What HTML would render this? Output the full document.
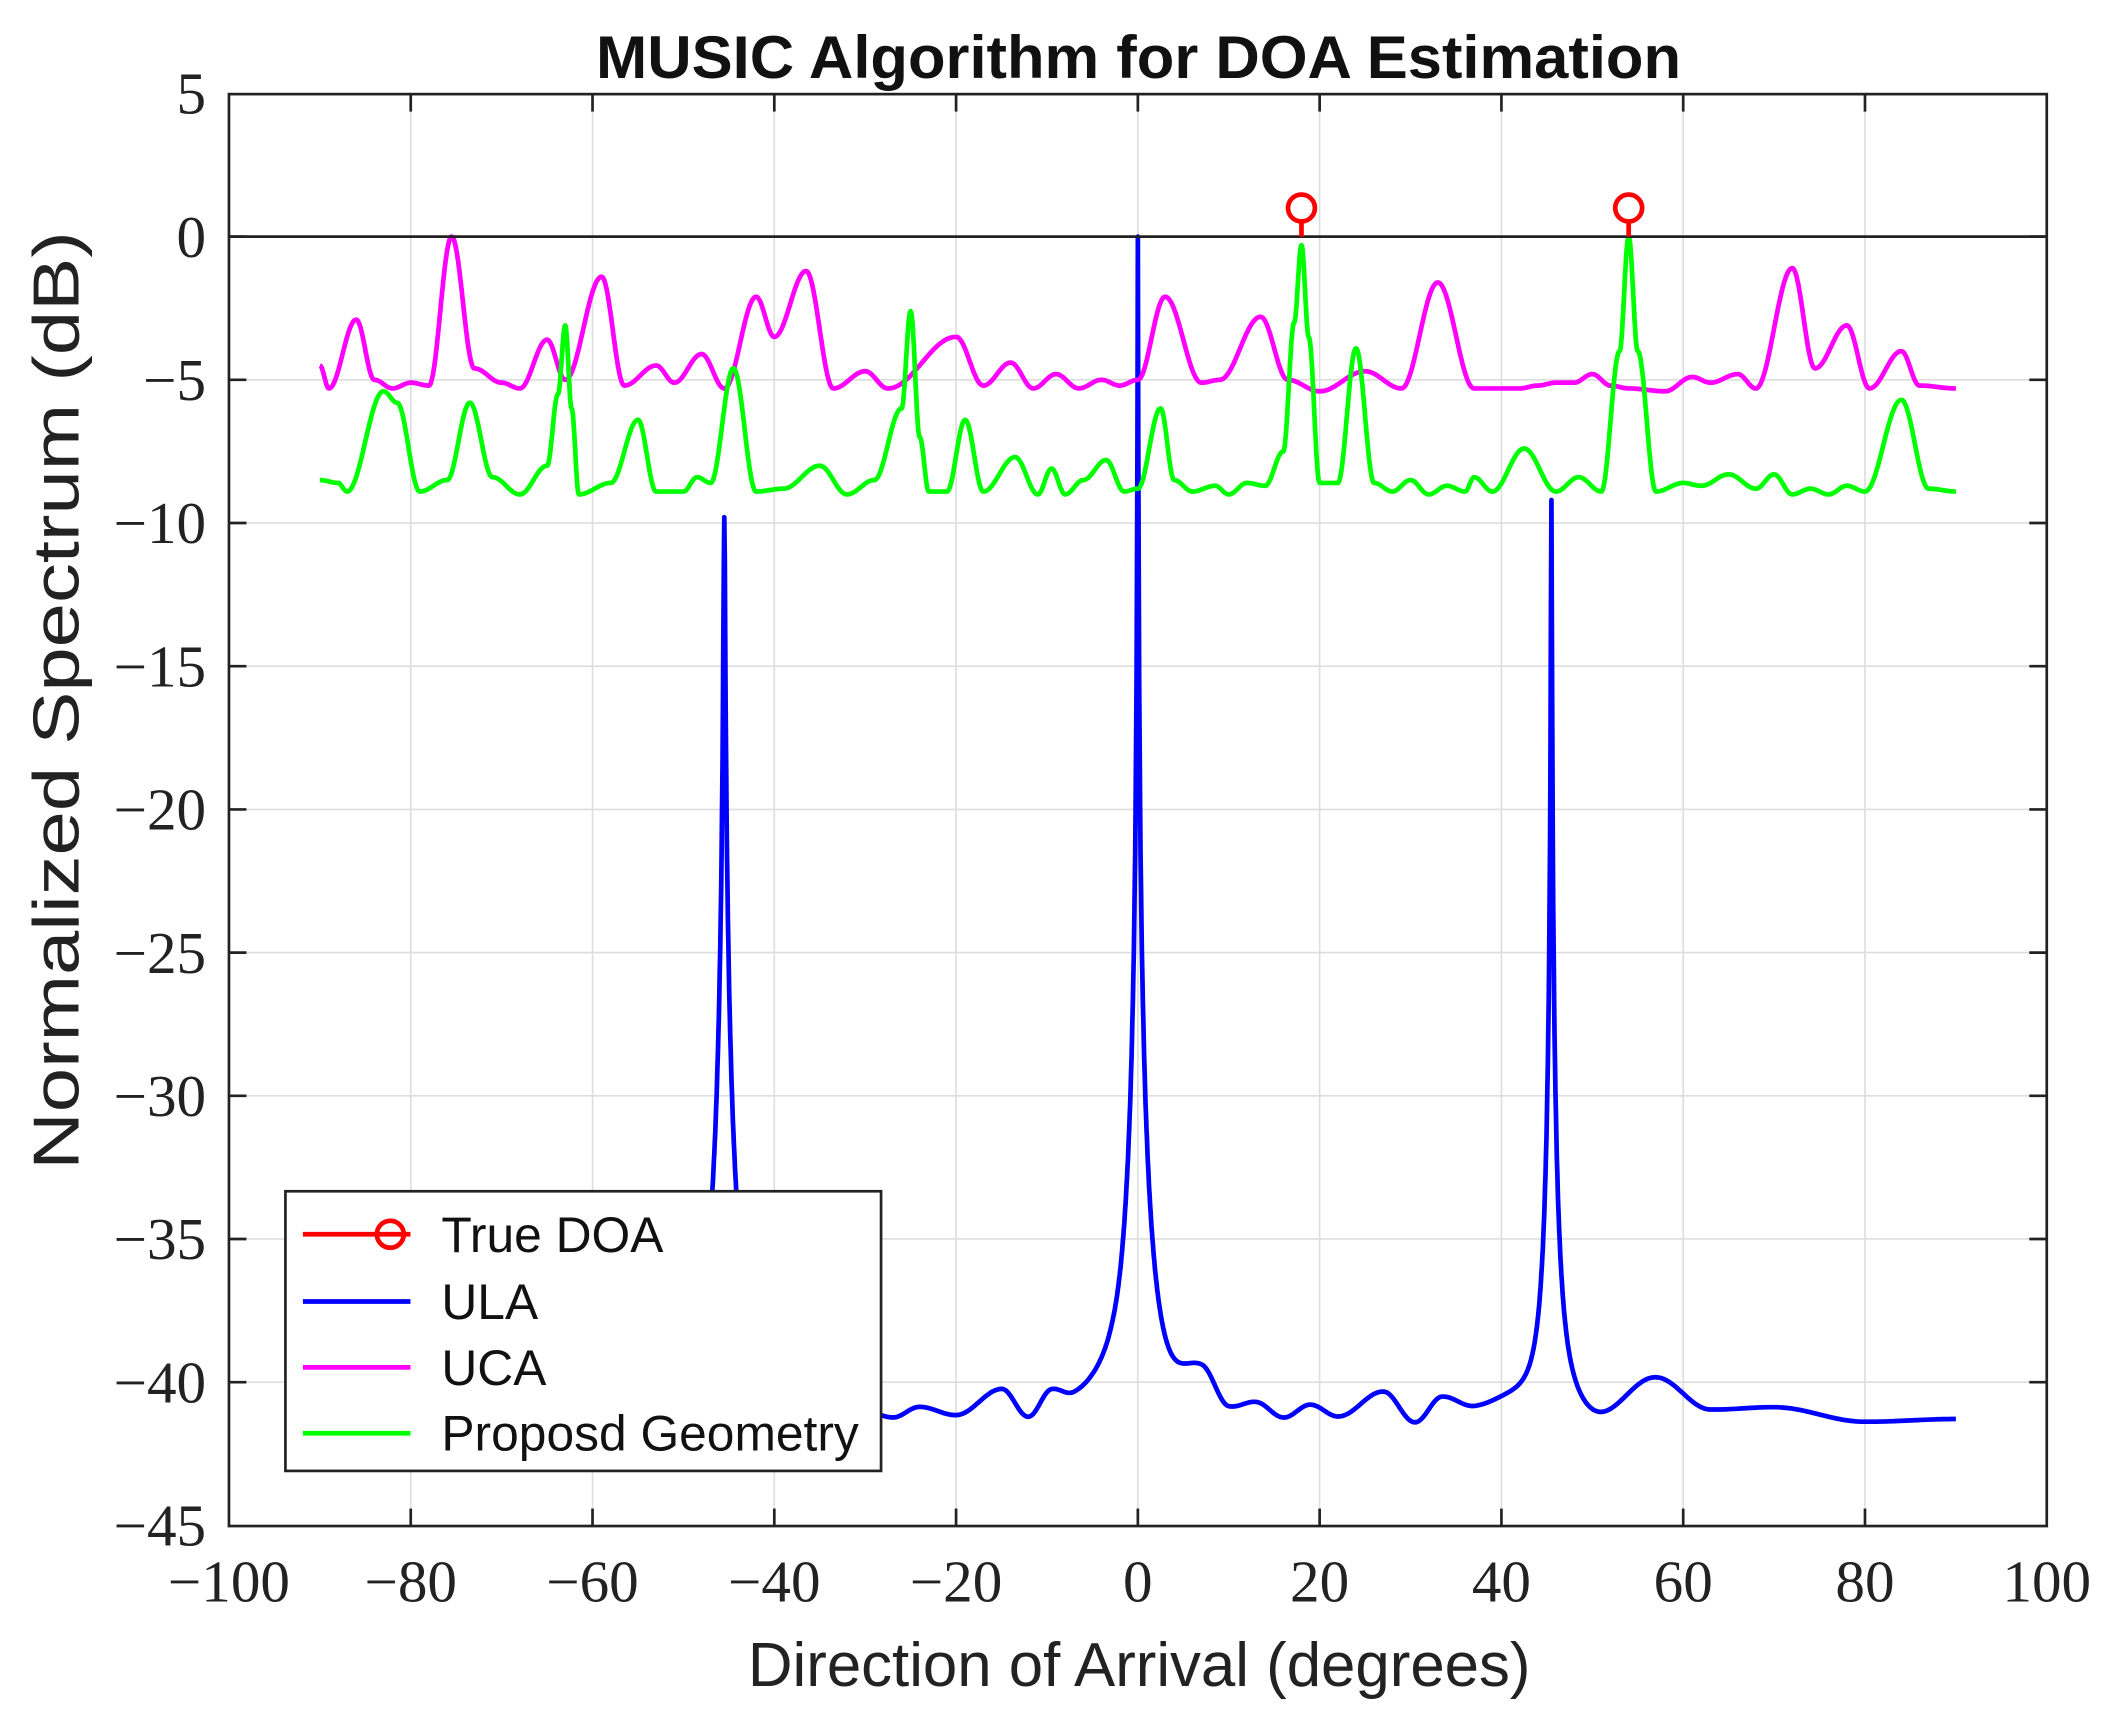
<!DOCTYPE html>
<html><head><meta charset="utf-8"><style>
html,body{margin:0;padding:0;background:#fff;}
svg{display:block;}
.tk{font-family:"Liberation Serif",serif;font-size:44px;fill:#222;}
</style></head><body>
<svg id="s" width="2109" height="1721" viewBox="0 0 1568 1280" xmlns="http://www.w3.org/2000/svg">
<rect width="1568" height="1280" fill="#fff"/>
<g id="grid"></g>
<g id="curves" fill="none" stroke-width="3.5" stroke-linejoin="round"></g>
<line x1="170" y1="176" x2="1522" y2="176" stroke="#222" stroke-width="2"/>
<g id="doa"></g>
<rect x="170" y="70" width="1352" height="1065" fill="none" stroke="#222" stroke-width="2"/>
<g id="ticks"></g>
<text x="443" y="58" textLength="807" lengthAdjust="spacingAndGlyphs" font-family="Liberation Sans, sans-serif" font-weight="bold" font-size="45" fill="#111">MUSIC Algorithm for DOA Estimation</text>
<text x="556" y="1254" textLength="582" lengthAdjust="spacingAndGlyphs" font-family="Liberation Sans, sans-serif" font-size="46" fill="#222">Direction of Arrival (degrees)</text>
<text transform="translate(58,870) rotate(-90)" textLength="698" lengthAdjust="spacingAndGlyphs" font-family="Liberation Sans, sans-serif" font-size="48" fill="#222">Normalized Spectrum (dB)</text>
<g>
<rect x="212" y="886" width="443" height="208" fill="#fff" stroke="#222" stroke-width="2"/>
<line x1="225" y1="918" x2="305" y2="918" stroke="#f00" stroke-width="3.5"/>
<circle cx="290" cy="918" r="10" fill="none" stroke="#f00" stroke-width="3.5"/>
<line x1="225" y1="968" x2="305" y2="968" stroke="#00f" stroke-width="3.5"/>
<line x1="225" y1="1017" x2="305" y2="1017" stroke="#f0f" stroke-width="3.5"/>
<line x1="225" y1="1066" x2="305" y2="1066" stroke="#0f0" stroke-width="3.5"/>
<g font-family="Liberation Sans, sans-serif" font-size="37" fill="#111">
<text x="328" y="931">True DOA</text>
<text x="328" y="981">ULA</text>
<text x="328" y="1030">UCA</text>
<text x="328" y="1079">Proposd Geometry</text>
</g>
</g>
</svg>
<script>
var NS="http://www.w3.org/2000/svg";
function X(d){return 846+6.76*d;}
function Y(v){return 176-21.3*v;}
function el(p,t,a,txt){var e=document.createElementNS(NS,t);for(var k in a)e.setAttribute(k,a[k]);if(txt!==undefined)e.textContent=txt;document.getElementById(p).appendChild(e);return e;}
for(var d=-100;d<=100;d+=20){
  var x=X(d);
  if(d>-100&&d<100){el("grid","line",{x1:x,y1:70,x2:x,y2:1135,stroke:"#ddd","stroke-width":1.2});
  el("ticks","line",{x1:x,y1:1135,x2:x,y2:1122,stroke:"#222","stroke-width":2});
  el("ticks","line",{x1:x,y1:70,x2:x,y2:83,stroke:"#222","stroke-width":2});}
  el("ticks","text",{x:x,y:1191,"text-anchor":"middle","class":"tk"},(d<0?"\u2212":"")+Math.abs(d));
}
for(var v=5;v>=-45;v-=5){
  var y=Y(v);
  if(v<5&&v>-45){el("grid","line",{x1:170,y1:y,x2:1522,y2:y,stroke:"#ddd","stroke-width":1.2});
  el("ticks","line",{x1:170,y1:y,x2:183,y2:y,stroke:"#222","stroke-width":2});
  el("ticks","line",{x1:1522,y1:y,x2:1509,y2:y,stroke:"#222","stroke-width":2});}
  el("ticks","text",{x:153,y:y+15,"text-anchor":"end","class":"tk"},(v<0?"\u2212":"")+Math.abs(v));
}
function interp(pts,x){
  for(var i=0;i<pts.length-1;i++){var a=pts[i],b=pts[i+1];
    if(x>=a[0]&&x<=b[0]){var t=(x-a[0])/(b[0]-a[0]);t=(1-Math.cos(Math.PI*t))/2;return a[1]+(b[1]-a[1])*t;}}
  return pts[pts.length-1][1];
}
function path(f,color){
  var s="";for(var d=-90;d<=90.0001;d+=0.05){s+=(s?"L":"M")+X(d).toFixed(1)+" "+Y(f(d)).toFixed(1);}
  el("curves","path",{d:s,stroke:color});
}
var mag=[[-90,-4.5],[-89,-5.3],[-86,-2.9],[-84,-5.0],[-82,-5.3],[-80,-5.1],[-78,-5.2],[-75.5,0],[-73,-4.6],[-70,-5.1],[-68,-5.3],[-65,-3.6],[-63,-5.0],[-59,-1.4],[-56.5,-5.2],[-53,-4.5],[-51,-5.1],[-48,-4.1],[-45.5,-5.3],[-42,-2.1],[-40,-3.5],[-36.5,-1.2],[-33.5,-5.3],[-30,-4.7],[-27.5,-5.3],[-20,-3.5],[-17,-5.2],[-14,-4.4],[-11.5,-5.3],[-9,-4.8],[-6.5,-5.3],[-4,-5.0],[-2,-5.2],[0,-5],[3,-2.1],[7,-5.1],[9,-5.0],[13.5,-2.8],[16.5,-5.0],[20,-5.4],[25,-4.7],[29,-5.3],[33,-1.6],[37,-5.3],[42,-5.3],[44,-5.2],[46,-5.1],[48,-5.1],[50,-4.8],[52,-5.2],[54,-5.3],[58,-5.4],[61,-4.9],[63,-5.1],[66,-4.8],[68,-5.3],[72,-1.1],[74.5,-4.6],[78,-3.1],[80.5,-5.3],[84,-4.0],[86,-5.2],[90,-5.3]];
var grn=[[-90,-8.5],[-88,-8.6],[-87,-8.9],[-83,-5.4],[-81.5,-5.8],[-79,-8.9],[-76,-8.5],[-73.5,-5.8],[-71,-8.4],[-68,-9.0],[-65,-8.0],[-63.8,-5.5],[-63,-3.1],[-62.3,-6],[-61.5,-9.0],[-58,-8.6],[-55,-6.4],[-53,-8.9],[-50,-8.9],[-48.5,-8.4],[-47,-8.6],[-44.5,-4.6],[-42,-8.9],[-39,-8.8],[-35,-8.0],[-32,-9.0],[-29,-8.5],[-26,-6],[-25,-2.6],[-24,-7],[-23,-8.9],[-21,-8.9],[-19,-6.4],[-17,-8.9],[-13.5,-7.7],[-11,-9.0],[-9.5,-8.1],[-8,-9.0],[-6,-8.5],[-3.5,-7.8],[-1.5,-8.9],[0,-8.8],[2.5,-6.0],[4,-8.5],[6,-8.9],[8.5,-8.7],[10,-9.0],[12,-8.6],[14,-8.7],[16,-7.5],[17.2,-3],[18,-0.3],[18.8,-3.5],[20,-8.6],[22,-8.6],[24,-3.9],[26,-8.6],[28,-8.9],[30,-8.5],[32,-9.0],[34,-8.7],[36,-8.9],[37,-8.4],[39,-8.9],[42.5,-7.4],[46,-8.9],[48.5,-8.4],[51,-8.9],[53,-4],[54,0],[55,-4],[57,-8.9],[60,-8.6],[62,-8.7],[65,-8.3],[68,-8.8],[70,-8.3],[72,-9.0],[74,-8.8],[76,-9.0],[78,-8.7],[80,-8.9],[84,-5.7],[87,-8.8],[90,-8.9]];
var blueB=[[-90,-41],[-60,-41.2],[-50,-41],[-40,-41],[-30,-41.2],[-27,-41.4],[-24,-41],[-20,-41.3],[-15,-40.4],[-12,-41.5],[-9.5,-40.6],[-7,-41],[-3,-40.8],[-1.5,-41],[0,-41],[2,-41.4],[7,-39.9],[10,-41.2],[13,-40.9],[16,-41.4],[19,-40.9],[22,-41.3],[27,-40.4],[30.5,-41.5],[33.5,-40.6],[37,-41],[41,-40.8],[45.5,-41],[50,-41.5],[57,-39.9],[63,-41],[70,-40.9],[80,-41.4],[90,-41.3]];
function pk(d,c,top,w){return top-10*Math.log10(1+Math.pow((d-c)/w,2));}
function blue(d){
  var b=interp(blueB,d);
  var p=Math.pow(10,b/10)+Math.pow(10,pk(d,-45.5,-9.8,0.08)/10)+Math.pow(10,pk(d,0,0,0.025)/10)+Math.pow(10,pk(d,45.5,-9.2,0.04)/10);
  return 10*Math.log10(p);
}
path(blue,"#00f");
path(function(d){return interp(mag,d);},"#f0f");
path(function(d){return interp(grn,d);},"#0f0");
[18,54].forEach(function(d){
  el("doa","line",{x1:X(d),y1:Y(0),x2:X(d),y2:Y(1)+10,stroke:"#f00","stroke-width":3.5});
  el("doa","circle",{cx:X(d),cy:Y(1),r:10,fill:"none",stroke:"#f00","stroke-width":3.5});
});
</script>
</body></html>
